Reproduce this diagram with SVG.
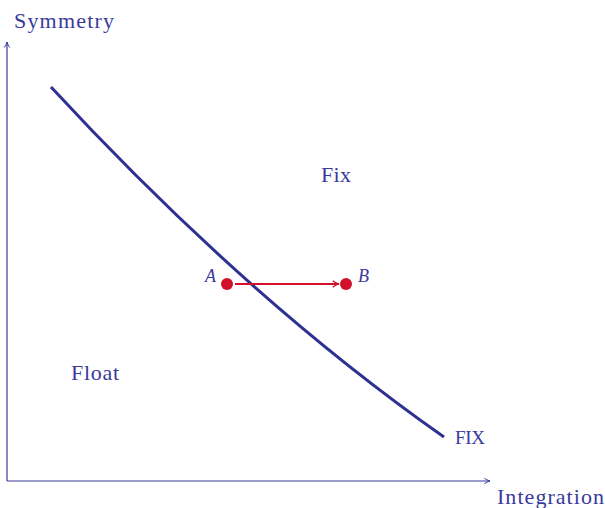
<svg xmlns="http://www.w3.org/2000/svg" width="605" height="508" viewBox="0 0 605 508">
<defs>
<style>
text{font-family:"Liberation Serif","Times New Roman",serif;fill:#3a3a9c;font-size:22px}
.ax{stroke:#3a3a9c;stroke-width:1.2;fill:none}
.it{font-style:italic;font-size:18px}
</style>
<marker id="ah" viewBox="0 0 10 10" refX="9" refY="5" markerWidth="8" markerHeight="8" markerUnits="userSpaceOnUse" orient="auto">
<path d="M2,1.5 Q5,4 9,5 Q5,6 2,8.5" fill="none" stroke="#3a3a9c" stroke-width="1.2"/>
</marker>
<marker id="ahr" viewBox="0 0 10 10" refX="9" refY="5" markerWidth="9" markerHeight="9" markerUnits="userSpaceOnUse" orient="auto">
<path d="M2,1.5 Q5,4 9,5 Q5,6 2,8.5" fill="none" stroke="#d3102a" stroke-width="1.4"/>
</marker>
</defs>
<g id="connectors">
<path class="ax" d="M7,481 V42" marker-end="url(#ah)"/>
<path class="ax" d="M7,481 H490" marker-end="url(#ah)"/>
<path d="M51,87 Q246,298 444,437" fill="none" stroke="#2e3192" stroke-width="3"/>
<path d="M235,284 H339" fill="none" stroke="#d3102a" stroke-width="2" marker-end="url(#ahr)"/>
</g>
<g id="labels">
<text x="14" y="28" textLength="100">Symmetry</text>
<text x="321" y="182" textLength="30">Fix</text>
<text x="71" y="380" textLength="48">Float</text>
<text x="455" y="444" style="font-size:19px" textLength="30">FIX</text>
<text x="497" y="504" textLength="107">Integration</text>
</g>
<g id="A">
<circle cx="227" cy="284" r="6" fill="#d3102a"/>
<text class="it" x="205" y="282">A</text>
</g>
<g id="B">
<circle cx="346" cy="284" r="6" fill="#d3102a"/>
<text class="it" x="358" y="282">B</text>
</g>
</svg>
